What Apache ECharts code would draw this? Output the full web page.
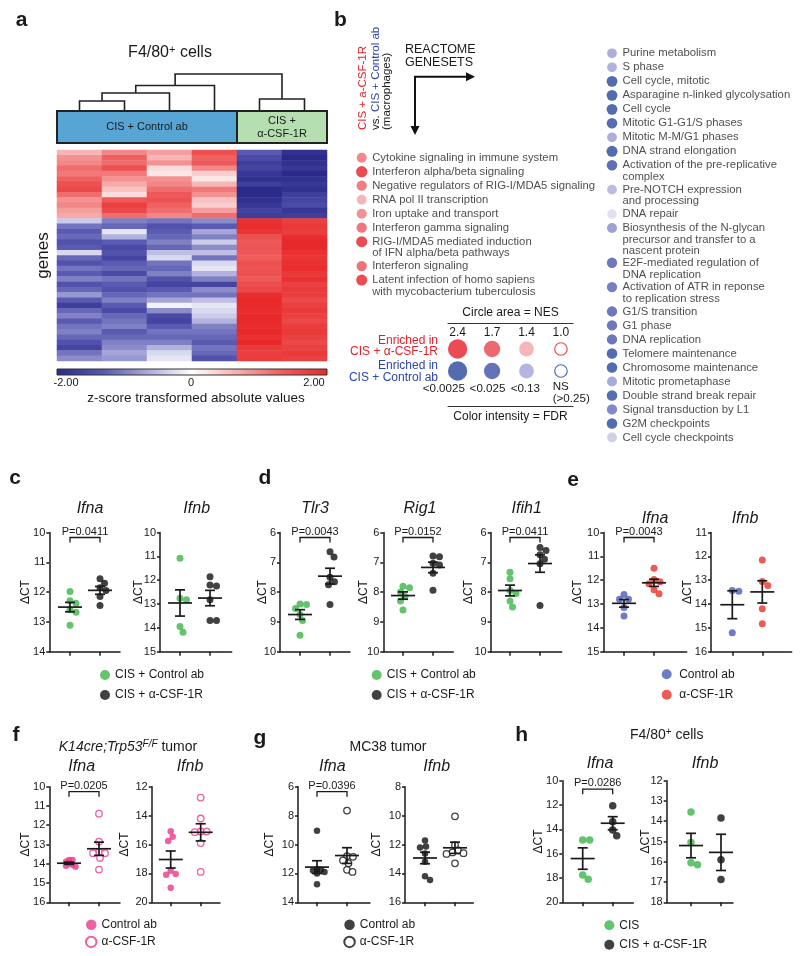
<!DOCTYPE html>
<html><head><meta charset="utf-8">
<script src="https://cdn.jsdelivr.net/npm/echarts@6/dist/echarts.min.js"></script>
<style>html,body{margin:0;padding:0;background:#fff}#chart{width:800px;height:956px}</style>
</head><body><div id="chart"></div>
<script>
// ================= DATA =================
// Panel a: z-scored expression (rows = genes, one array per sample)
const heatSamples = ['Ctrl 1','Ctrl 2','Ctrl 3','Ctrl 4','aCSF1R 1','aCSF1R 2'];
const heatCtrl1 = [0.6,0.9,1.0,1.2,1.1,1.3,1.5,1.6,1.2,0.9,1.0,0.8,0.7,
  -0.4,-1.1,-1.3,-1.2,-1.4,-1.3,-0.3,-1.2,-1.4,-1.1,-1.3,-1.0,-1.4,-1.2,-0.8,-1.3,-1.7,-1.2,-1.0,-1.3,-1.1,-1.0,-1.2,-1.4,-1.6,-1.1,-0.9];
const heatCtrl2 = [1.0,1.3,1.2,1.5,1.1,0.9,0.7,0.5,0.3,1.4,1.7,1.6,1.2,
  -1.0,-1.2,-0.2,-0.6,-1.3,-1.5,-1.4,-1.6,-1.3,-1.2,-1.5,-1.1,-1.3,-1.4,-1.2,-1.0,-1.3,-1.5,-1.2,-1.1,-1.0,-1.3,-1.2,-1.0,-0.9,-0.7,-0.8];
const heatCtrl3 = [0.8,0.6,0.9,0.3,0.2,0.9,1.0,1.2,1.4,1.5,1.3,1.2,1.0,
  -1.1,-1.4,-1.3,-1.2,-1.0,-1.2,-0.5,-0.3,-1.1,-1.2,-1.0,-1.4,-1.6,-1.3,-1.1,-0.7,-0.1,-0.9,-1.5,-1.6,-1.3,-1.1,-1.2,-1.0,-0.6,-0.3,-0.2];
const heatCtrl4 = [1.5,1.3,1.4,1.0,0.4,0.2,0.6,1.1,0.9,0.5,0.4,0.8,1.2,
  -0.9,-1.3,-0.7,-1.0,-0.4,-0.9,-0.5,-1.1,-0.3,-0.2,-0.6,-1.0,-1.6,-0.9,-1.1,-0.5,-0.2,-0.3,-0.4,-0.6,-1.0,-1.1,-1.2,-1.3,-1.1,-1.2,-1.4];
const heatAnti1 = [-1.3,-1.5,-1.7,-1.6,-1.8,-1.9,-1.7,-2.0,-2.0,-1.9,-1.8,-1.6,-1.7,
  1.9,1.95,1.85,1.5,1.4,1.45,1.4,1.35,1.5,1.45,1.5,1.4,1.55,1.6,1.95,2.0,2.0,1.95,2.0,2.0,1.95,2.0,1.9,2.0,1.8,1.7,1.75];
const heatAnti2 = [-1.9,-2.0,-1.9,-1.8,-2.0,-1.9,-1.8,-1.9,-1.7,-1.6,-1.5,-1.8,-1.7,
  1.7,1.8,1.75,1.95,2.0,2.0,1.9,1.85,1.9,1.95,1.8,1.9,1.7,1.8,1.75,1.6,1.7,1.8,1.7,1.6,1.75,1.8,1.7,1.6,1.7,1.8,1.7];
const heatGroupNames = ['CIS + Control ab','CIS +\nα-CSF-1R'];
const heatGroupSamples = [[0,4],[4,6]];            // sample index ranges
const dendroLinkage = [[0,1,10],[6,2,18],[7,3,25.5],[4,5,12],[8,9,37]]; // [childA, childB, height]
const colorbarLabels = ['-2.00','0','2.00'];

// Panel b: REACTOME gene sets
const upNames = ['Cytokine signaling in immune system','Interferon alpha/beta signaling','Negative regulators of RIG-I/MDA5 signaling','RNA pol II transcription','Iron uptake and transport','Interferon gamma signaling','RIG-I/MDA5 mediated induction\nof IFN alpha/beta pathways','Interferon signaling','Latent infection of homo sapiens\nwith mycobacterium tuberculosis'];
const upNES = [1.9,2.4,2.0,1.8,1.9,2.0,2.3,2.0,2.3];
const upFDR = [0.05,0.001,0.04,0.13,0.06,0.033,0.002,0.03,0.001];
const downNames = ['Purine metabolism','S phase','Cell cycle, mitotic','Asparagine n-linked glycolysation','Cell cycle','Mitotic G1-G1/S phases','Mitotic M-M/G1 phases','DNA strand elongation','Activation of the pre-replicative\ncomplex','Pre-NOTCH expression\nand processing','DNA repair','Biosynthesis of the N-glycan\nprecursor and transfer to a\nnascent protein','E2F-mediated regulation of\nDNA replication','Activation of ATR in reponse\nto replication stress','G1/S transition','G1 phase','DNA replication','Telomere maintenance','Chromosome maintenance','Mitotic prometaphase','Double strand break repair','Signal transduction by L1','G2M checkpoints','Cell cycle checkpoints'];
const downNES = [1.8,1.8,2.2,2.2,2.2,2.1,1.8,2.3,2.1,1.8,1.7,1.9,2.0,2.0,2.0,2.0,2.0,2.1,2.1,1.9,2.1,2.0,2.1,1.8];
const downFDR = [0.11,0.12,0.002,0.002,0.002,0.003,0.11,0.001,0.012,0.14,0.22,0.08,0.03,0.035,0.03,0.03,0.03,0.002,0.002,0.1,0.003,0.045,0.002,0.18];
const legendNES = [2.4,1.7,1.4,1.0];
const legendFDR = [0.0025,0.025,0.13,null];
const legendFDRLabels = ['<0.0025','<0.025','<0.13','NS\n(>0.25)'];
const legendRowLabels = ['Enriched in\nCIS + α-CSF-1R','Enriched in\nCIS + Control ab'];

// Panels c-h: ΔCT values
const cIfnaCtrl = [11.98,12.29,12.37,12.59,12.68,13.11];
const cIfnaAnti = [11.55,11.7,11.85,11.95,12.15,12.45];
const cIfnbCtrl = [11.08,12.76,12.82,13.94,14.18];
const cIfnbAnti = [11.86,12.2,12.24,12.82,13.69,13.69];
const dTlr3Ctrl = [8.42,8.4,8.55,8.75,8.95,9.45];
const dTlr3Anti = [6.65,6.82,7.5,7.65,7.75,8.42];
const dRig1Ctrl = [7.8,7.85,8.0,8.15,8.3,8.6];
const dRig1Anti = [6.79,6.81,7.03,7.09,7.37,7.94];
const dIfih1Ctrl = [7.33,7.55,7.95,8.05,8.3,8.5];
const dIfih1Anti = [6.5,6.6,6.75,6.9,7.05,8.45];
const eIfnaCtrl = [12.6,12.8,12.8,13.15,13.5];
const eIfnaAnti = [11.5,11.97,12.07,12.15,12.4,12.57];
const eIfnbCtrl = [13.43,13.46,15.2];
const eIfnbAnti = [12.15,13.06,13.22,14.2,14.83];
const fIfnaCtrl = [13.8,13.8,13.9,14.0,14.05,14.1,14.15];
const fIfnaAnti = [11.4,12.85,13.4,13.45,13.45,13.7,14.3];
const fIfnbCtrl = [15.08,15.47,15.75,17.82,18.05,18.1,19.0];
const fIfnbAnti = [12.75,14.2,15.1,15.1,15.15,15.9,17.9];
const gIfnaCtrl = [9.05,11.7,11.75,11.8,11.9,12.0,12.75];
const gIfnaAnti = [7.65,10.8,10.85,11.1,11.3,11.75,11.9];
const gIfnbCtrl = [11.73,12.13,12.2,12.62,13.2,14.2,14.45];
const gIfnbAnti = [10.05,12.05,12.4,12.55,12.6,12.65,13.3];
const hIfnaCtrl = [14.88,14.88,17.75,18.1];
const hIfnaAnti = [12.05,13.37,14.05,14.52];
const hIfnbCtrl = [13.55,15.05,16.05,16.15];
const hIfnbAnti = [13.84,15.9,16.87];

// ================= STYLE / LAYOUT =================
const FONT = '"Liberation Sans", Arial, Helvetica, sans-serif';
const INK = '#1a1a1a';
const HEAT_COLORS = ['#2b2a8a','#5656b0','#a9a9da','#ffffff','#f6aeae','#ef5d5d','#e8292a'];
const RED_RAMP = [[0.0025,'#e61e28'],[0.025,'#e9444c'],[0.13,'#f4a3a7'],[0.25,'#fbe4e5']];
const BLUE_RAMP = [[0.0025,'#28479c'],[0.025,'#3d4fa7'],[0.13,'#a3a3d7'],[0.25,'#e5e5f3']];
const STY = {
  green:{color:'#3db54a'}, black:{color:'#111111'}, blue:{color:'#4a5bb6'}, red:{color:'#e8322b'},
  pink:{color:'#e8388b'}, pinkO:{color:'#ffffff',borderColor:'#e8388b',borderWidth:1.3},
  blackO:{color:'#ffffff',borderColor:'#111111',borderWidth:1.3}
};
const CAT_PX = 30;
const ROW1 = {top:532.5, height:119.2, ty:509};
const ROW2 = {top:786.7, height:115.6, ty:766.7};
const plots = [
 {t:'Ifna', tx:90, r:ROW1, left:49.3, width:70.7, first:20.7, min:10,max:14,step:1, gap:17.5, p:'P=0.0411', g:[[cIfnaCtrl,'green','CIS + Control ab'],[cIfnaAnti,'black','CIS + α-CSF-1R']]},
 {t:'Ifnb', tx:196.7, r:ROW1, left:160, width:71.7, first:20, min:10,max:15,step:1, gap:15, g:[[cIfnbCtrl,'green','CIS + Control ab'],[cIfnbAnti,'black','CIS + α-CSF-1R']]},
 {t:'Tlr3', tx:315, r:ROW1, left:280, width:70, first:20, min:6,max:10,step:1, gap:11.5, p:'P=0.0043', g:[[dTlr3Ctrl,'green','CIS + Control ab'],[dTlr3Anti,'black','CIS + α-CSF-1R']]},
 {t:'Rig1', tx:420, r:ROW1, left:383.3, width:70, first:19.7, min:6,max:10,step:1, gap:13.2, p:'P=0.0152', g:[[dRig1Ctrl,'green','CIS + Control ab'],[dRig1Anti,'black','CIS + α-CSF-1R']]},
 {t:'Ifih1', tx:526.7, r:ROW1, left:490.7, width:71, first:19.3, min:6,max:10,step:1, gap:15.7, p:'P=0.0411', g:[[dIfih1Ctrl,'green','CIS + Control ab'],[dIfih1Anti,'black','CIS + α-CSF-1R']]},
 {t:'Ifna', tx:655, ty:518.3, r:ROW1, left:603.3, width:83.4, first:20.7, min:10,max:15,step:1, gap:20, p:'P=0.0043', g:[[eIfnaCtrl,'blue','Control ab'],[eIfnaAnti,'red','α-CSF-1R']]},
 {t:'Ifnb', tx:745, ty:518.3, r:ROW1, left:711, width:80.7, first:21.3, min:11,max:16,step:1, gap:17.5, g:[[eIfnbCtrl,'blue','Control ab'],[eIfnbAnti,'red','α-CSF-1R']]},
 {t:'Ifna', tx:81.7, r:ROW2, left:49.3, width:70.7, first:19.7, min:10,max:16,step:1, gap:17.5, p:'P=0.0205', ms:6.5, ov:0.5, g:[[fIfnaCtrl,'pink','Control ab '],[fIfnaAnti,'pinkO','α-CSF-1R ']]},
 {t:'Ifnb', tx:190, r:ROW2, left:151.7, width:68.3, first:19, min:12,max:20,step:2, gap:21.5, ms:6.5, g:[[fIfnbCtrl,'pink','Control ab '],[fIfnbAnti,'pinkO','α-CSF-1R ']]},
 {t:'Ifna', tx:332.3, r:ROW2, left:298, width:72, first:19, min:6,max:14,step:2, gap:22, p:'P=0.0396', ms:6.5, ov:0.6, g:[[gIfnaCtrl,'black','Control ab  '],[gIfnaAnti,'blackO','α-CSF-1R  ']]},
 {t:'Ifnb', tx:436.7, r:ROW2, left:405, width:68.3, first:20, min:8,max:16,step:2, gap:22, ms:6.5, g:[[gIfnbCtrl,'black','Control ab  '],[gIfnbAnti,'blackO','α-CSF-1R  ']]},
 {t:'Ifna', tx:600, ty:763.3, r:{top:780.7,height:121.6}, left:562.3, width:71, first:20.4, min:10,max:20,step:2, gap:17.5, p:'P=0.0286', pOff:3.5, ms:7.5, g:[[hIfnaCtrl,'green','CIS'],[hIfnaAnti,'black','CIS + α-CSF-1R']]},
 {t:'Ifnb', tx:705, ty:763.3, r:{top:780.7,height:121.6}, left:666.7, width:66.3, first:24.3, min:12,max:18,step:1, gap:15, ms:7.5, g:[[hIfnbCtrl,'green','CIS'],[hIfnbAnti,'black','CIS + α-CSF-1R']]}
];
// b legend text layout
const LEG_ROW_POS = [[438,346.3,'#e61e28'],[438,371.9,'#2d46a8']];
const LEG_FDR_POS = [[443.8,389,'center'],[487.5,389,'center'],[525.3,389,'center'],[552.7,392.7,'left']];

// ================= HELPERS =================
function hex(h){return [1,3,5].map(i=>parseInt(h.substr(i,2),16));}
function mix(a,b,t){const A=hex(a),B=hex(b);return 'rgb('+A.map((v,i)=>Math.round(v+(B[i]-v)*t)).join(',')+')';}
function fdrColor(f,ramp){
  if(f<=ramp[0][0]) return ramp[0][1];
  for(let i=1;i<ramp.length;i++){ if(f<=ramp[i][0]){
    const t=(Math.log(f)-Math.log(ramp[i-1][0]))/(Math.log(ramp[i][0])-Math.log(ramp[i-1][0]));
    return mix(ramp[i-1][1],ramp[i][1],t);} }
  return ramp[ramp.length-1][1];
}
function meanSem(a){const n=a.length,m=a.reduce((s,v)=>s+v,0)/n;
  const sd=Math.sqrt(a.reduce((s,v)=>s+(v-m)*(v-m),0)/(n-1));return [m,sd/Math.sqrt(n)];}
function swarm(vals,yPx,d){
  const idx=vals.map((v,i)=>i).sort((a,b)=>vals[a]-vals[b]);
  const placed=[],off=[];
  idx.forEach(i=>{const py=vals[i]*yPx;let dx=0;
    for(let k=0;k<400;k++){dx=k===0?0:(k%2?1:-1)*Math.ceil(k/2)*0.5;
      if(placed.every(p=>(p[0]-dx)*(p[0]-dx)+(p[1]-py)*(p[1]-py)>=d*d))break;}
    placed.push([dx,py]);off[i]=dx;});
  return off;
}
function listYs(names){let y=0;return names.map(n=>{const c=y;y+=1+(n.split('\n').length-1)*0.74;return c;});}

const grids=[],xAxes=[],yAxes=[],series=[],graphics=[];
function addGrid(g){grids.push(Object.assign({outerBoundsMode:'none'},g));return grids.length-1;}
const hidden={show:false};
function txt(x,y,text,o){graphics.push({type:'text',x:x,y:y,silent:true,rotation:o&&o.rot||0,
  style:Object.assign({text:text,fontFamily:FONT,fontSize:12,fill:INK,align:'center',verticalAlign:'middle'},o||{})});}

// ================= PANEL a =================
const gH=addGrid({left:57,top:150,width:270,height:211});
xAxes.push({gridIndex:gH,type:'category',data:heatSamples,show:false});
yAxes.push({gridIndex:gH,type:'category',inverse:true,data:heatCtrl1.map((v,i)=>String(i)),
  axisLine:hidden,axisTick:hidden,axisLabel:hidden,splitLine:hidden,
  name:'genes',nameLocation:'middle',nameGap:5,nameRotate:90,nameMoveOverlap:false,
  nameTextStyle:{fontSize:17,color:INK,fontFamily:FONT}});
const heatCols=[heatCtrl1,heatCtrl2,heatCtrl3,heatCtrl4,heatAnti1,heatAnti2];
const heatData=[];heatCols.forEach((col,c)=>col.forEach((v,r)=>heatData.push([c,r,v])));
series.push({type:'heatmap',xAxisIndex:xAxes.length-1,yAxisIndex:yAxes.length-1,data:heatData,silent:true,itemStyle:{borderWidth:0}});
const heatSeriesIndex=series.length-1;

// dendrogram + group bar
const gD=addGrid({left:57,top:73,width:270,height:70});
xAxes.push({gridIndex:gD,type:'value',min:0,max:6,show:false});
yAxes.push({gridIndex:gD,type:'value',min:-32,max:38,show:false});
const nodeX=heatSamples.map((s,i)=>i+0.5),nodeH=heatSamples.map(()=>0),links=[];
dendroLinkage.forEach(([a,b,h])=>{links.push([nodeX[a],nodeH[a],nodeX[b],nodeH[b],h]);nodeX.push((nodeX[a]+nodeX[b])/2);nodeH.push(h);});
series.push({type:'custom',xAxisIndex:xAxes.length-1,yAxisIndex:yAxes.length-1,silent:true,clip:false,data:links,
  renderItem:(p,api)=>{const A=api.coord([api.value(0),api.value(1)]),B=api.coord([api.value(0),api.value(4)]),
    C=api.coord([api.value(2),api.value(4)]),D=api.coord([api.value(2),api.value(3)]);
    return {type:'polyline',shape:{points:[A,B,C,D]},style:{stroke:'#222',lineWidth:1.6,fill:null}};}});
const groupFill=['#56a5d5','#b6dfb1'];
series.push({type:'custom',xAxisIndex:xAxes.length-1,yAxisIndex:yAxes.length-1,silent:true,clip:false,
  data:heatGroupSamples.map((s,i)=>[s[0],s[1],i]),
  renderItem:(p,api)=>{const a=api.coord([api.value(0),0]),b=api.coord([api.value(1),-32]);const i=api.value(2);
    return {type:'group',children:[
      {type:'rect',shape:{x:a[0],y:a[1],width:b[0]-a[0],height:b[1]-a[1]},style:{fill:groupFill[i],stroke:'#222',lineWidth:2}},
      {type:'text',style:{text:heatGroupNames[i],x:(a[0]+b[0])/2,y:(a[1]+b[1])/2,align:'center',verticalAlign:'middle',fontSize:11,lineHeight:13,fontFamily:FONT,fill:INK}}]};}});

// colorbar
graphics.push({type:'rect',silent:true,shape:{x:57,y:369,width:270,height:6},
  style:{fill:{type:'linear',x:0,y:0,x2:1,y2:0,colorStops:HEAT_COLORS.map((c,i)=>({offset:i/(HEAT_COLORS.length-1),color:c}))},stroke:'#333',lineWidth:1}});
txt(66,383,colorbarLabels[0],{fontSize:11});
txt(191,383,colorbarLabels[1],{fontSize:11});
txt(314,383,colorbarLabels[2],{fontSize:11});
txt(196,398,'z-score transformed absolute values',{fontSize:13.5});
txt(170,53,'{n|F4/80}{s|+}{n| cells}',{rich:{n:{fontSize:16,lineHeight:18,fontFamily:FONT,fill:INK},s:{fontSize:11,lineHeight:10,verticalAlign:'top',fontFamily:FONT,fill:INK}}});

// ================= PANEL b =================
function addList(names,nes,fdr,ramp,cx,cy){
  const ys=listYs(names),M=ys[ys.length-1];
  const gi=addGrid({left:cx,top:cy,width:10,height:14*M});
  xAxes.push({gridIndex:gi,type:'value',min:0,max:1,show:false});
  yAxes.push({gridIndex:gi,type:'value',min:0,max:M,inverse:true,show:false});
  series.push({type:'scatter',xAxisIndex:xAxes.length-1,yAxisIndex:yAxes.length-1,silent:true,
    data:names.map((n,i)=>({name:n,value:[0,ys[i]],symbolSize:7.3*Math.sqrt(nes[i]),itemStyle:{color:fdrColor(fdr[i],ramp)}})),
    label:{show:true,position:'inside',align:'left',verticalAlign:'top',offset:[10.5,-5.9],formatter:'{b}',
      fontSize:11.3,lineHeight:11.7,color:'#222',fontFamily:FONT}});
}
addList(upNames,upNES,upFDR,RED_RAMP,361.7,157.7);
addList(downNames,downNES,downFDR,BLUE_RAMP,612,53.3);

// b legend
const gL=addGrid({left:448,top:323,width:125,height:83.7});
const lxMin=-0.28,lxMax=3.35;
xAxes.push({gridIndex:gL,type:'value',position:'top',min:lxMin,max:lxMax,splitLine:hidden,axisTick:hidden,
  axisLine:{show:true,onZero:false,lineStyle:{color:'#333',width:1}},
  axisLabel:{inside:true,customValues:[0,1,2,3],formatter:v=>legendNES[Math.round(v)].toFixed(1),fontSize:12,color:INK,margin:4},
  name:'Circle area = NES',nameLocation:'middle',nameGap:4,nameMoveOverlap:false,nameTextStyle:{fontSize:12,color:INK}});
const lxTop=xAxes.length-1;
xAxes.push({gridIndex:gL,type:'value',position:'bottom',min:lxMin,max:lxMax,splitLine:hidden,axisTick:hidden,axisLabel:hidden,
  axisLine:{show:true,onZero:false,lineStyle:{color:'#333',width:1}},
  name:'Color intensity = FDR',nameLocation:'middle',nameGap:4,nameMoveOverlap:false,nameTextStyle:{fontSize:12,color:INK,verticalAlign:'top'}});
yAxes.push({gridIndex:gL,type:'value',inverse:true,min:-1.18,max:2.62,splitLine:hidden,axisTick:hidden,axisLine:hidden,axisLabel:hidden});
const lyIdx=yAxes.length-1;
[RED_RAMP,BLUE_RAMP].forEach((ramp,row)=>{
  series.push({type:'scatter',xAxisIndex:lxTop,yAxisIndex:lyIdx,silent:true,
    data:legendNES.map((n,i)=>{const f=legendFDR[i];const c=f===null?null:fdrColor(f,ramp);
      return {value:[i,row],symbolSize:12.5*Math.sqrt(n),
        itemStyle:f===null?{color:'#fff',borderColor:ramp[0][1],borderWidth:1.2}:{color:c}};})});
});
legendRowLabels.forEach((s,i)=>txt(LEG_ROW_POS[i][0],LEG_ROW_POS[i][1],s,{align:'right',fontSize:12,lineHeight:11.7,fill:LEG_ROW_POS[i][2]}));
legendFDRLabels.forEach((s,i)=>txt(LEG_FDR_POS[i][0],LEG_FDR_POS[i][1],s,{align:LEG_FDR_POS[i][2],fontSize:11.6,lineHeight:12}));

// b header
txt(363,130,'CIS + a-CSF-1R',{rot:Math.PI/2,align:'left',fontSize:11.5,fill:'#e61e28'});
txt(375.7,130,'{k|vs. }{b|CIS + Control ab}',{rot:Math.PI/2,align:'left',
  rich:{k:{fontSize:11.5,fill:INK,fontFamily:FONT},b:{fontSize:11.5,fill:'#2d46a8',fontFamily:FONT}}});
txt(387,130,'(macrophages)',{rot:Math.PI/2,align:'left',fontSize:11.5});
txt(405,56.5,'REACTOME\nGENESETS',{align:'left',fontSize:12.5,lineHeight:13});
graphics.push({type:'polyline',silent:true,shape:{points:[[467,76.7],[415,76.7],[415,127]]},style:{stroke:'#111',lineWidth:2,fill:null}});
graphics.push({type:'polygon',silent:true,shape:{points:[[475,76.7],[466,72.2],[466,81.2]]},style:{fill:'#111'}});
graphics.push({type:'polygon',silent:true,shape:{points:[[415,135],[410.5,126],[419.5,126]]},style:{fill:'#111'}});

// ================= PANELS c-h =================
const axLine={color:INK,width:1.5};
plots.forEach(p=>{
  const top=p.r.top,height=p.r.height;
  const gi=addGrid({left:p.left,top:top,width:p.width,height:height});
  const xmin=1-p.first/CAT_PX;
  xAxes.push({gridIndex:gi,type:'value',min:xmin,max:xmin+p.width/CAT_PX,splitLine:hidden,axisLabel:hidden,
    axisLine:{show:true,onZero:false,lineStyle:axLine},axisTick:{show:true,customValues:[1,2],length:4,lineStyle:axLine}});
  yAxes.push({gridIndex:gi,type:'value',inverse:true,min:p.min,max:p.max,interval:p.step,splitLine:hidden,
    axisLine:{show:true,onZero:false,lineStyle:axLine},axisTick:{show:true,length:3,lineStyle:axLine},
    axisLabel:{fontSize:11,color:INK,margin:4,fontFamily:FONT},
    name:'ΔCT',nameLocation:'middle',nameGap:p.gap,nameRotate:90,nameMoveOverlap:false,nameTextStyle:{fontSize:12,color:INK,fontFamily:FONT}});
  const xi=xAxes.length-1,yi=yAxes.length-1;
  const yPx=height/(p.max-p.min),ms=p.ms||7;
  const stats=[];
  p.g.forEach((grp,k)=>{
    const [vals,sty,name]=grp;
    const off=swarm(vals,yPx,ms*(k===0&&p.ov?p.ov:0.9));
    series.push({type:'scatter',name:name,xAxisIndex:xi,yAxisIndex:yi,silent:true,symbolSize:ms,z:3,
      itemStyle:Object.assign({},STY[sty]),data:vals.map((v,i)=>[k+1+off[i]/CAT_PX,v])});
    const ms2=meanSem(vals);stats.push([k+1,ms2[0],ms2[1]]);
  });
  series.push({type:'custom',xAxisIndex:xi,yAxisIndex:yi,silent:true,clip:false,z:5,data:stats,
    renderItem:(pp,api)=>{const c=api.coord([api.value(0),api.value(1)]),
      t=api.coord([api.value(0),api.value(1)-api.value(2)]),b=api.coord([api.value(0),api.value(1)+api.value(2)]);
      const st={stroke:INK,lineWidth:1.7};
      return {type:'group',children:[
        {type:'line',shape:{x1:c[0]-12,y1:c[1],x2:c[0]+12,y2:c[1]},style:st},
        {type:'line',shape:{x1:c[0],y1:t[1],x2:c[0],y2:b[1]},style:st},
        {type:'line',shape:{x1:c[0]-5,y1:t[1],x2:c[0]+5,y2:t[1]},style:st},
        {type:'line',shape:{x1:c[0]-5,y1:b[1],x2:c[0]+5,y2:b[1]},style:st}]};}});
  if(p.p){
    series.push({type:'custom',xAxisIndex:xi,yAxisIndex:yi,silent:true,clip:false,z:5,data:[[1,2]],
      renderItem:(pp,api)=>{const x1=api.coord([api.value(0),p.min])[0],x2=api.coord([api.value(1),p.min])[0];
        const yt=pp.coordSys.y+(p.pOff||0);
        return {type:'group',children:[
          {type:'polyline',shape:{points:[[x1,yt+10],[x1,yt+5],[x2,yt+5],[x2,yt+10]]},style:{stroke:INK,lineWidth:1.3,fill:null}},
          {type:'text',style:{text:p.p,x:(x1+x2)/2,y:yt-1,align:'center',verticalAlign:'middle',fontSize:11,fontFamily:FONT,fill:INK}}]};}});
  }
  txt(p.tx,p.ty||p.r.ty,p.t,{fontSize:16,fontStyle:'italic'});
});

// panel letters and subtitles
[['a',21.5,20],['b',340.5,20],['c',15,478],['d',265,478],['e',573,480],['f',16,735],['g',260,738],['h',521.7,735]]
  .forEach(l=>txt(l[1],l[2],l[0],{fontSize:21,fontWeight:'bold'}));
txt(128,747.3,'{i|K14cre;Trp53}{s|F/F}{n| tumor}',{rich:{i:{fontSize:14,fontStyle:'italic',lineHeight:16,fontFamily:FONT,fill:INK},
  s:{fontSize:10,fontStyle:'italic',lineHeight:9,verticalAlign:'top',fontFamily:FONT,fill:INK},n:{fontSize:14,lineHeight:16,fontFamily:FONT,fill:INK}}});
txt(388,747.3,'MC38 tumor',{fontSize:14});
txt(666.7,735,'{n|F4/80}{s|+}{n| cells}',{rich:{n:{fontSize:14,lineHeight:16,fontFamily:FONT,fill:INK},s:{fontSize:10,lineHeight:9,verticalAlign:'top',fontFamily:FONT,fill:INK}}});

// legends
const legBase={orient:'vertical',icon:'circle',itemWidth:10,itemHeight:10,itemGap:8,padding:0,selectedMode:false,
  textStyle:{fontSize:12,color:INK,fontFamily:FONT}};
const legends=[
  Object.assign({},legBase,{data:['CIS + Control ab','CIS + α-CSF-1R'],left:100,top:669}),
  Object.assign({},legBase,{data:['CIS + Control ab','CIS + α-CSF-1R'],left:371.7,top:669}),
  Object.assign({},legBase,{data:['Control ab','α-CSF-1R'],left:661.7,top:668.3,itemWidth:15,itemGap:8.4}),
  Object.assign({},legBase,{data:['Control ab ','α-CSF-1R '],left:85,top:918.7,itemHeight:10.5,itemWidth:10.5,itemGap:5}),
  Object.assign({},legBase,{data:['Control ab  ','α-CSF-1R  '],left:343.3,top:918.7,itemHeight:10.5,itemWidth:10.5,itemGap:5}),
  Object.assign({},legBase,{data:['CIS','CIS + α-CSF-1R'],left:604.3,top:919.3,itemGap:7.4})
];

const chart=echarts.init(document.getElementById('chart'),null,{renderer:'canvas'});
chart.setOption({
  animation:false,backgroundColor:'#ffffff',textStyle:{fontFamily:FONT},
  grid:grids,xAxis:xAxes,yAxis:yAxes,series:series,legend:legends,graphic:graphics,
  visualMap:[{type:'continuous',show:false,min:-2,max:2,seriesIndex:heatSeriesIndex,inRange:{color:HEAT_COLORS}}]
});
</script></body></html>
